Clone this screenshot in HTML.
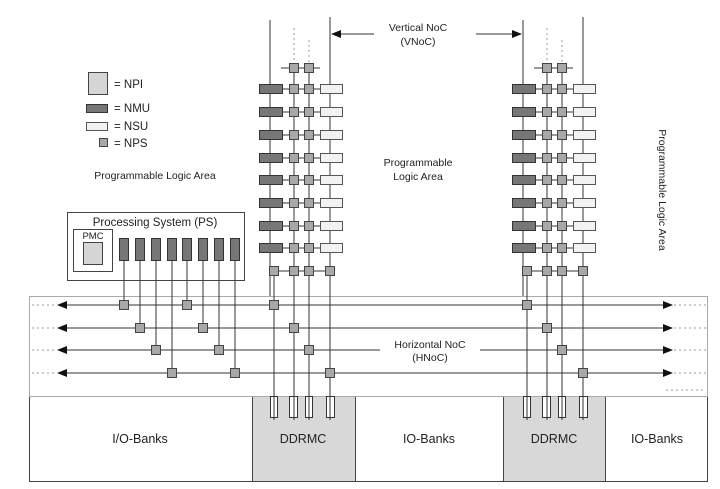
<!DOCTYPE html>
<html><head><meta charset="utf-8"><style>
html,body{margin:0;padding:0;background:#fff;}
svg{display:block;font-family:"Liberation Sans",sans-serif;}
.nmu{fill:#777;stroke:#333;stroke-width:1}
.nsu{fill:#f2f2f2;stroke:#555;stroke-width:1}
.nps{fill:#a8a8a8;stroke:#444;stroke-width:1}
.ln{stroke:#333;stroke-width:1;fill:none}
.dt{stroke:#999;stroke-width:1;stroke-dasharray:2,3;fill:none}
text{fill:#222}
</style></head><body>
<svg width="720" height="489" viewBox="0 0 720 489" xmlns="http://www.w3.org/2000/svg">
<defs>
<marker id="ah" markerWidth="10" markerHeight="8" refX="9" refY="4" orient="auto" markerUnits="userSpaceOnUse">
<path d="M0,0 L10,4 L0,8 z" fill="#111"/></marker>
<marker id="ahs" markerWidth="10" markerHeight="8" refX="1" refY="4" orient="auto" markerUnits="userSpaceOnUse"><path d="M10,0 L0,4 L10,8 z" fill="#111"/></marker>
<g id="col">
 <line class="ln" x1="11" y1="20" x2="11" y2="296"/>
 <line class="ln" x1="71" y1="17" x2="71" y2="420"/>
 <line class="dt" x1="35" y1="28" x2="35" y2="62"/>
 <line class="dt" x1="50" y1="40" x2="50" y2="62"/>
 <line class="ln" x1="35" y1="63" x2="35" y2="420"/>
 <line class="ln" x1="50" y1="63" x2="50" y2="420"/>
 <line class="ln" x1="15" y1="271" x2="15" y2="420"/>
 <line class="ln" x1="22" y1="68" x2="61" y2="68"/>
 <rect class="nps" x="30.5" y="63.5" width="9" height="9"/>
 <rect class="nps" x="45.5" y="63.5" width="9" height="9"/>
 <g id="row">
  <line class="ln" x1="23" y1="89" x2="61" y2="89"/>
  <rect class="nmu" x="0.5" y="84.5" width="23" height="9"/>
  <rect class="nps" x="30.5" y="84.5" width="9" height="9"/>
  <rect class="nps" x="45.5" y="84.5" width="9" height="9"/>
  <rect class="nsu" x="61.5" y="84.5" width="22" height="9"/>
 </g>
 <use href="#row" y="23"/><use href="#row" y="46"/><use href="#row" y="69"/>
 <use href="#row" y="91"/><use href="#row" y="114"/><use href="#row" y="137"/><use href="#row" y="159"/>
 <line class="ln" x1="15" y1="271" x2="71" y2="271"/>
 <rect class="nps" x="10.5" y="266.5" width="9" height="9"/>
 <rect class="nps" x="30.5" y="266.5" width="9" height="9"/>
 <rect class="nps" x="45.5" y="266.5" width="9" height="9"/>
 <rect class="nps" x="66.5" y="266.5" width="9" height="9"/>
</g>
</defs>

<rect x="29.5" y="396.5" width="678" height="85" fill="#fff" stroke="#444"/>
<rect x="252.5" y="396.5" width="103" height="85" fill="#d8d8d8" stroke="#444"/>
<rect x="503.5" y="396.5" width="102" height="85" fill="#d8d8d8" stroke="#444"/>
<text x="140" y="443" font-size="12.5" text-anchor="middle">I/O-Banks</text>
<text x="303" y="443" font-size="12.5" text-anchor="middle">DDRMC</text>
<text x="429" y="443" font-size="12.5" text-anchor="middle">IO-Banks</text>
<text x="554" y="443" font-size="12.5" text-anchor="middle">DDRMC</text>
<text x="657" y="443" font-size="12.5" text-anchor="middle">IO-Banks</text>

<rect x="29.5" y="296.5" width="678" height="100" fill="none" stroke="#aaa"/>
<line class="ln" x1="58" y1="305" x2="672" y2="305" marker-start="url(#ahs)" marker-end="url(#ah)"/>
<line class="ln" x1="58" y1="328" x2="672" y2="328" marker-start="url(#ahs)" marker-end="url(#ah)"/>
<line class="ln" x1="58" y1="350" x2="672" y2="350" marker-start="url(#ahs)" marker-end="url(#ah)"/>
<line class="ln" x1="58" y1="373" x2="672" y2="373" marker-start="url(#ahs)" marker-end="url(#ah)"/>
<g class="dt"><line x1="32" y1="305" x2="56" y2="305"/><line x1="32" y1="328" x2="56" y2="328"/><line x1="32" y1="350" x2="56" y2="350"/><line x1="32" y1="373" x2="56" y2="373"/>
<line x1="674" y1="305" x2="706" y2="305"/><line x1="674" y1="328" x2="706" y2="328"/><line x1="674" y1="350" x2="706" y2="350"/><line x1="674" y1="373" x2="706" y2="373"/><line x1="666" y1="390" x2="706" y2="390"/></g>
<rect x="380" y="336" width="100" height="28" fill="#fff"/>
<text x="430" y="348" font-size="10.5" text-anchor="middle">Horizontal NoC</text>
<text x="430" y="361" font-size="10.5" text-anchor="middle">(HNoC)</text>

<use href="#col" x="259"/>
<use href="#col" x="512"/>
<g fill="#fff" stroke="#333">
<rect x="270.5" y="396.5" width="7" height="21"/><rect x="289.5" y="396.5" width="8" height="21"/><rect x="305.5" y="396.5" width="7" height="21"/><rect x="326.5" y="396.5" width="8" height="21"/>
<rect x="523.5" y="396.5" width="7" height="21"/><rect x="542.5" y="396.5" width="8" height="21"/><rect x="558.5" y="396.5" width="7" height="21"/><rect x="579.5" y="396.5" width="8" height="21"/>
</g>
<g class="ln"><line x1="274" y1="396" x2="274" y2="418"/><line x1="294" y1="396" x2="294" y2="418"/><line x1="309" y1="396" x2="309" y2="418"/><line x1="330" y1="396" x2="330" y2="418"/>
<line x1="527" y1="396" x2="527" y2="418"/><line x1="547" y1="396" x2="547" y2="418"/><line x1="562" y1="396" x2="562" y2="418"/><line x1="583" y1="396" x2="583" y2="418"/></g>
<g class="nps">
<rect x="269.5" y="300.5" width="9" height="9"/><rect x="289.5" y="323.5" width="9" height="9"/><rect x="304.5" y="345.5" width="9" height="9"/><rect x="325.5" y="368.5" width="9" height="9"/>
<rect x="522.5" y="300.5" width="9" height="9"/><rect x="542.5" y="323.5" width="9" height="9"/><rect x="557.5" y="345.5" width="9" height="9"/><rect x="578.5" y="368.5" width="9" height="9"/>
</g>

<rect x="67.5" y="212.5" width="177" height="68" fill="#fff" stroke="#444"/>
<text x="155" y="226" font-size="11.5" text-anchor="middle">Processing System (PS)</text>
<rect x="73.5" y="229.5" width="39" height="42" fill="#fff" stroke="#444"/>
<text x="93" y="239" font-size="9.5" text-anchor="middle">PMC</text>
<rect x="83.5" y="242.5" width="19" height="22" fill="#d6d6d6" stroke="#444"/>
<g class="ln">
<line x1="124" y1="260" x2="124" y2="305"/><line x1="140" y1="260" x2="140" y2="328"/><line x1="156" y1="260" x2="156" y2="350"/><line x1="172" y1="260" x2="172" y2="373"/>
<line x1="187" y1="260" x2="187" y2="305"/><line x1="203" y1="260" x2="203" y2="328"/><line x1="219" y1="260" x2="219" y2="350"/><line x1="235" y1="260" x2="235" y2="373"/>
</g>
<g class="nmu">
<rect x="119.5" y="238.5" width="9" height="22"/><rect x="135.5" y="238.5" width="9" height="22"/><rect x="151.5" y="238.5" width="9" height="22"/><rect x="167.5" y="238.5" width="9" height="22"/>
<rect x="182.5" y="238.5" width="9" height="22"/><rect x="198.5" y="238.5" width="9" height="22"/><rect x="214.5" y="238.5" width="9" height="22"/><rect x="230.5" y="238.5" width="9" height="22"/>
</g>
<g class="nps">
<rect x="119.5" y="300.5" width="9" height="9"/><rect x="135.5" y="323.5" width="9" height="9"/><rect x="151.5" y="345.5" width="9" height="9"/><rect x="167.5" y="368.5" width="9" height="9"/>
<rect x="182.5" y="300.5" width="9" height="9"/><rect x="198.5" y="323.5" width="9" height="9"/><rect x="214.5" y="345.5" width="9" height="9"/><rect x="230.5" y="368.5" width="9" height="9"/>
</g>

<rect x="88.5" y="72.5" width="19" height="22" fill="#d6d6d6" stroke="#444"/>
<text x="114" y="88" font-size="11.5">= NPI</text>
<rect x="86.5" y="104.5" width="21" height="8" class="nmu"/>
<text x="114" y="112" font-size="11.5">= NMU</text>
<rect x="86.5" y="122.5" width="21" height="8" class="nsu"/>
<text x="114" y="130" font-size="11.5">= NSU</text>
<rect x="99.5" y="138.5" width="8" height="8" class="nps"/>
<text x="114" y="147" font-size="11.5">= NPS</text>

<text x="155" y="179" font-size="10.5" text-anchor="middle">Programmable Logic Area</text>
<text x="418" y="166" font-size="10.5" text-anchor="middle">Programmable</text>
<text x="418" y="180" font-size="10.5" text-anchor="middle">Logic Area</text>
<text x="0" y="0" font-size="10.5" text-anchor="middle" transform="translate(659,190) rotate(90)">Programmable Logic Area</text>

<text x="418" y="31" font-size="10.5" text-anchor="middle">Vertical NoC</text>
<text x="418" y="45" font-size="10.5" text-anchor="middle">(VNoC)</text>
<line class="ln" x1="374" y1="34" x2="332" y2="34" marker-end="url(#ah)"/>
<line class="ln" x1="476" y1="34" x2="521" y2="34" marker-end="url(#ah)"/>
</svg>
</body></html>
